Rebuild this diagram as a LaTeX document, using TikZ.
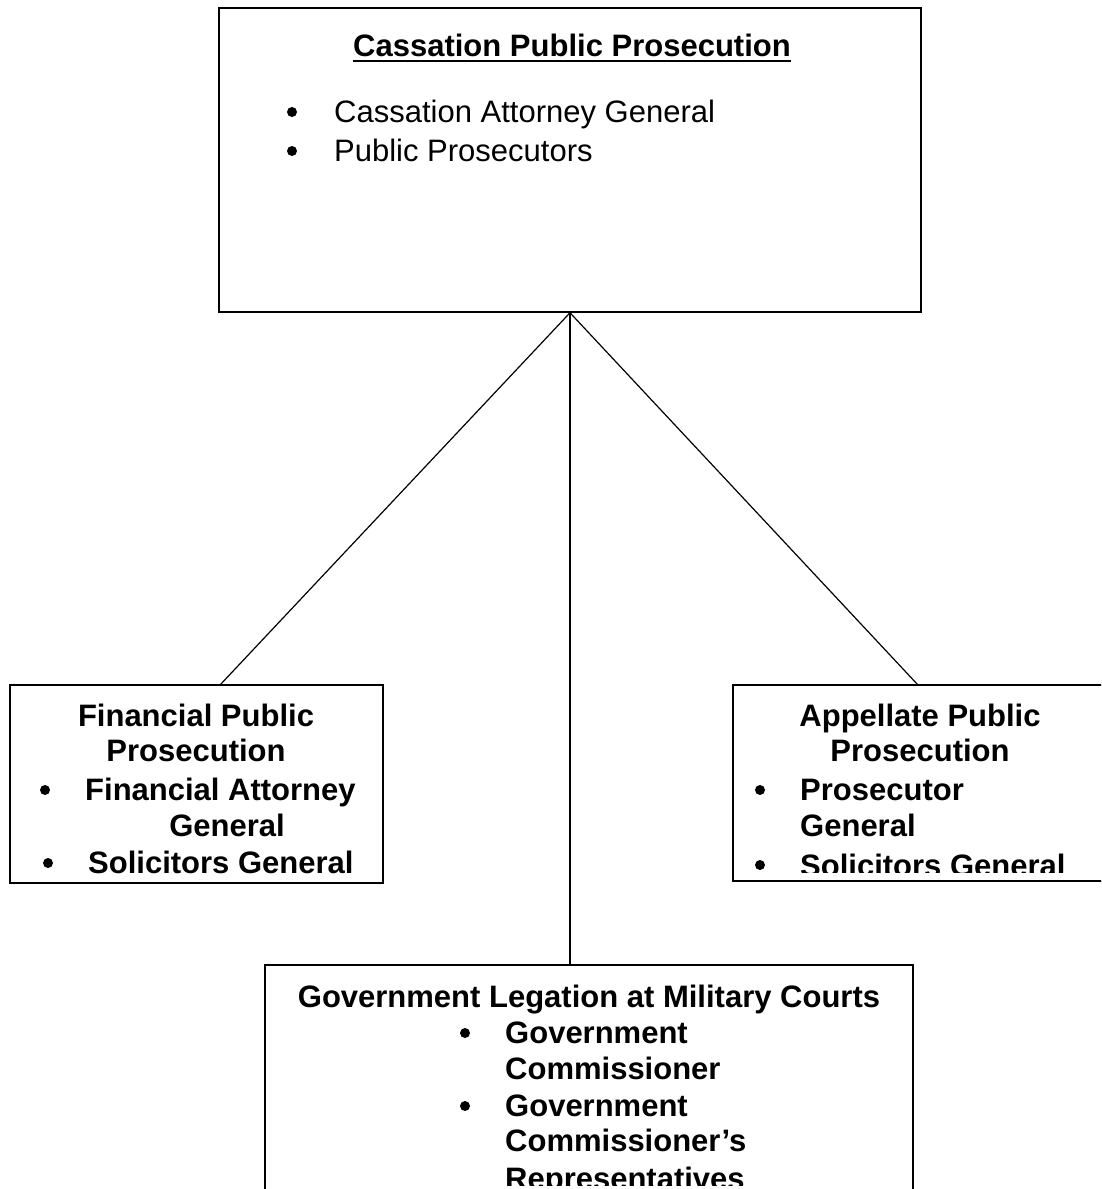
\documentclass[tikz,border=0pt]{standalone}
\usepackage{fontspec}
\setmainfont{Liberation Sans}
\newcommand\diagfs{\fontsize{31}{36}\selectfont}
\begin{document}
\begin{tikzpicture}[x=1pt,y=-1pt,
  box/.style={draw, line width=1.5pt, inner sep=0pt},
  conn/.style={line width=1.2pt},
  txt/.style={inner sep=0pt, font=\diagfs},
  bold/.style={inner sep=0pt, font=\diagfs\bfseries},
  bul/.style={circle, fill=black, inner sep=0pt, minimum size=10pt}]
\useasboundingbox (0,0) rectangle (1101,1189);
\clip (0,0) rectangle (1101,1189);

% boxes
\node[box, minimum width=702pt, minimum height=304pt] (cas) at (570,160) {};
\node[box, minimum width=373pt, minimum height=198pt] (fin) at (196.5,784) {};
\node[box, minimum width=382pt, minimum height=196pt] (app) at (924,783) {};
\node[box, minimum width=648pt, minimum height=240pt] (gov) at (589,1085) {};

% connector end points on box tops
\coordinate (finTop) at (220,685);
\coordinate (appTop) at (918,685);
\coordinate (govTop) at (570,965);

\draw[conn] (cas.south) -- (finTop);
\draw[conn] (cas.south) -- (govTop);
\draw[conn] (cas.south) -- (appTop);

% top box text
\node[bold, anchor=base] (castitle) at (572,56) {Cassation Public Prosecution};
\draw[line width=2pt] ([yshift=-5pt]castitle.base west) -- ([yshift=-5pt]castitle.base east);
\node[bul] (cb1) at (292,112) {};
\node[txt, anchor=base west] (ct1) at (334,122) {Cassation Attorney General};
\node[bul] (cb2) at (292,151) {};
\node[txt, anchor=base west] (ct2) at (334,161) {Public Prosecutors};

% left box text
\node[bold, anchor=base] (f1) at (196,726) {Financial Public};
\node[bold, anchor=base] (f2) at (196,761) {Prosecution};
\node[bul] (fb1) at (45,790) {};
\node[bold, anchor=base west] (f3) at (85,800) {Financial Attorney};
\node[bold, anchor=base] (f4) at (227,836) {General};
\node[bul] (fb2) at (48,863) {};
\node[bold, anchor=base west] (f5) at (88,873) {Solicitors General};

% right box text
\node[bold, anchor=base] (a1) at (920,726) {Appellate Public};
\node[bold, anchor=base] (a2) at (920,761) {Prosecution};
\node[bul] (ab1) at (760,790) {};
\node[bold, anchor=base west] (a3) at (800,800) {Prosecutor};
\node[bold, anchor=base west] (a4) at (800,836) {General};
\node[bul] (ab2) at (760,865) {};
\begin{scope}
\clip (733,840) rectangle (1101,872);
\node[bold, anchor=base west] (a5) at (800,876) {Solicitors General};
\end{scope}

% bottom box text
\node[bold, anchor=base] (g1) at (589,1007) {Government Legation at Military Courts};
\node[bul] (gb1) at (465,1033) {};
\node[bold, anchor=base west] (g2) at (505,1043) {Government};
\node[bold, anchor=base west] (g3) at (505,1079) {Commissioner};
\node[bul] (gb2) at (465,1106) {};
\node[bold, anchor=base west] (g4) at (505,1116) {Government};
\node[bold, anchor=base west] (g5) at (505,1151) {Commissioner’s};
\begin{scope}
\clip (265,1160) rectangle (913,1185);
\node[bold, anchor=base west] (g6) at (505,1189) {Representatives};
\end{scope}
\end{tikzpicture}
\end{document}
